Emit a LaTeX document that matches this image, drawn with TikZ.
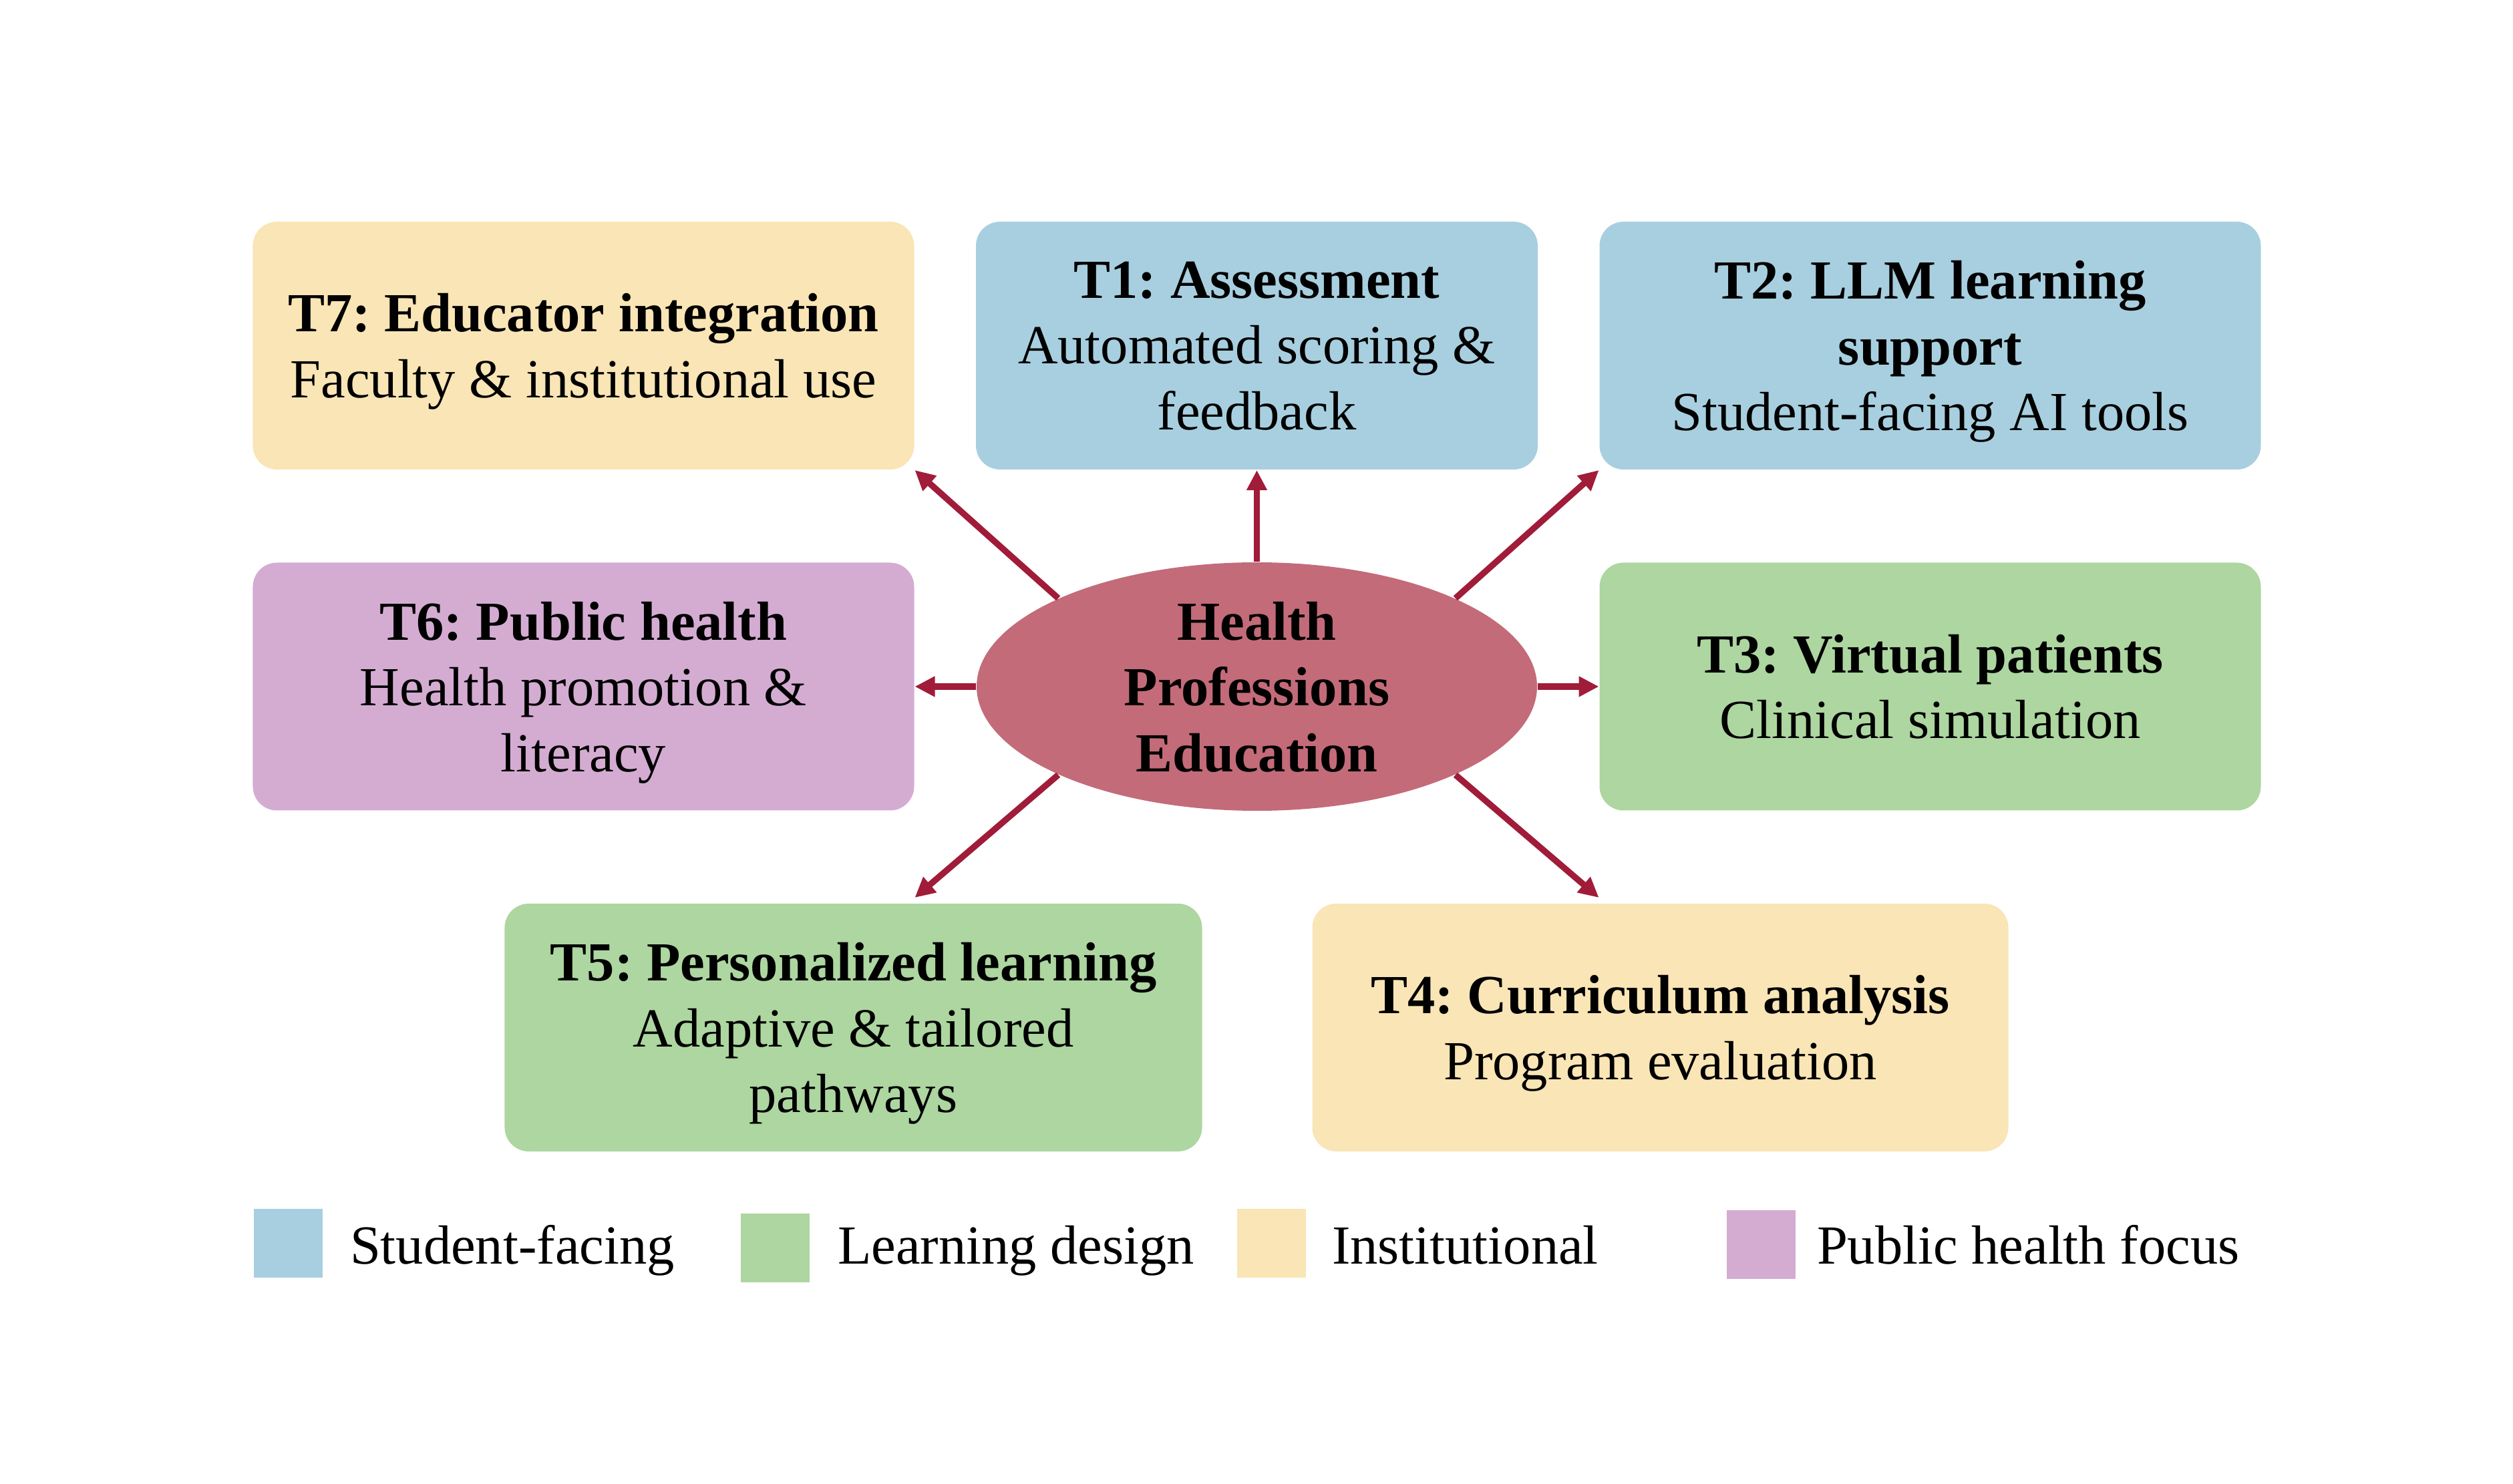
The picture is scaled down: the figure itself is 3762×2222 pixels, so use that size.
\documentclass[tikz,border=0pt]{standalone}
\usepackage{fontspec}
\setmainfont{Liberation Serif}
\usetikzlibrary{positioning}
\usetikzlibrary{shapes,arrows.meta}

\definecolor{facing}{RGB}{168,207,223}
\definecolor{design}{RGB}{173,214,160}
\definecolor{inst}{RGB}{249,229,181}
\definecolor{public}{RGB}{212,172,210}
\definecolor{core}{RGB}{195,107,121}
\definecolor{arrowred}{RGB}{160,28,56}

\frenchspacing

\begin{document}
\begin{tikzpicture}[x = 0.2pt, y = 0.2pt,
                    node distance = 102.1pt and 201.6pt, on grid,
                    hub/.style    = {ellipse,
                                     fill = core,
                                     inner sep = 0pt,
                                     minimum width = 167.8pt,
                                     minimum height = 74.4pt,
                                     text depth = 0pt,
                                     align = center,
                                     font = \fontsize{16.5}{19.7}\selectfont\bfseries},
                    theme/.style  = {rectangle,
                                     rounded corners = 7.2pt,
                                     inner sep = 0pt,
                                     minimum width = 198pt,
                                     minimum height = 74.2pt,
                                     text depth = 0pt,
                                     align = center,
                                     font = \fontsize{16.5}{19.7}\selectfont},
                    spoke/.style  = {-{Triangle[length = 6pt, width = 5.8pt]},
                                     draw = arrowred,
                                     line width = 1.87pt},
                    swatch/.style = {rectangle,
                                     inner sep = 0pt,
                                     minimum size = 20.5pt,
                                     anchor = west},
                    key/.style    = {anchor = base west,
                                     inner sep = 0pt,
                                     font = \fontsize{16.5}{19.7}\selectfont}]

\useasboundingbox (0,0) rectangle (3762,-2222);

\node[hub] (hub) at (1881.5,-1028) {Health\\Professions\\Education};

\node[theme, fill = facing, minimum width = 168.2pt] (T1) [above = of hub]
     {\textbf{T1: Assessment}\\Automated scoring \&\\feedback};
\node[theme, fill = inst] (T7) [left = of T1]
     {\textbf{T7: Educator integration}\\Faculty \& institutional use};
\node[theme, fill = facing] (T2) [right = of T1]
     {\textbf{T2: LLM learning}\\\textbf{support}\\Student-facing AI tools};

\node[theme, fill = public] (T6) [left = of hub]
     {\textbf{T6: Public health}\\Health promotion \&\\literacy};
\node[theme, fill = design] (T3) [right = of hub]
     {\textbf{T3: Virtual patients}\\Clinical simulation};

\node[theme, fill = design, minimum width = 208.8pt] (T5) [below = of hub, xshift = -120.8pt]
     {\textbf{T5: Personalized learning}\\Adaptive \& tailored\\pathways};
\node[theme, fill = inst, minimum width = 208.4pt] (T4) [below = of hub, xshift = 120.8pt]
     {\textbf{T4: Curriculum analysis}\\Program evaluation};

\coordinate (T5in) at ([yshift = 1.6pt]T5.north -| T6.east);
\coordinate (T4in) at ([yshift = 1.6pt]T4.north -| T3.west);

\draw[spoke] (hub.north)      -- (T1.south);
\draw[spoke] (hub.north west) -- (T7.south east);
\draw[spoke] (hub.north east) -- (T2.south west);
\draw[spoke] (hub.west)       -- (T6.east);
\draw[spoke] (hub.east)       -- (T3.west);
\draw[spoke] (hub.south west) -- (T5in);
\draw[spoke] (hub.south east) -- (T4in);

% legend
\node[swatch, fill = facing] (kFacing) at (379,-1861.5) {};
\node[key] (lFacing) at (523,-1892.7) {Student-facing};
\node[swatch, fill = design] (kDesign) at (1108,-1868.5) {};
\node[key] (lDesign) at (1253,-1892.7) {Learning design};
\node[swatch, fill = inst] (kInst) at (1851,-1861.5) {};
\node[key] (lInst) at (1993,-1892.7) {Institutional};
\node[swatch, fill = public] (kPublic) at (2584,-1863.5) {};
\node[key] (lPublic) at (2719,-1892.7) {Public health focus};

\end{tikzpicture}
\end{document}
